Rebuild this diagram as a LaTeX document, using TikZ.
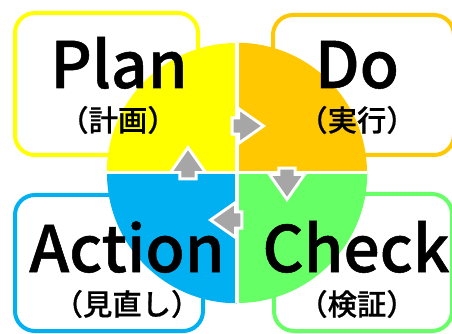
\documentclass[tikz,border=0pt]{standalone}
\usepackage{fontspec}
\setmainfont{Noto Sans CJK JP}[UprightFont=* Medium, BoldFont=* Bold]
\usetikzlibrary{shapes.arrows}
\definecolor{planyellow}{HTML}{FFFF00}
\definecolor{doorange}{HTML}{FFC800}
\definecolor{checkgreen}{HTML}{66FF66}
\definecolor{actblue}{HTML}{00B0F0}
\definecolor{cyclegray}{HTML}{A6A6A6}
\begin{document}
\begin{tikzpicture}[x=0.75pt,y=-0.75pt,
    pdcabox/.style={line width=3pt, rounded corners=15pt},
    bigword/.style={font=\fontsize{48}{48}\selectfont\addfontfeature{FakeBold=0.8}, anchor=base},
    jpword/.style={font=\fontsize{22}{22}\selectfont\addfontfeature{FakeBold=0.6}},
    cyclearrow/.style={single arrow, draw=white, fill=cyclegray, line width=2.2pt,
      inner sep=0pt, inner ysep=5pt, minimum height=23.5pt,
      single arrow tip angle=70, single arrow head extend=7pt}]
    \useasboundingbox (0,0) rectangle (452,334);
    \draw[pdcabox, planyellow] (15,13) rectangle (198,155);
    \draw[pdcabox, doorange] (273,15) rectangle (454,155);
    \draw[pdcabox, actblue] (15,195) rectangle (203,331);
    \draw[pdcabox, checkgreen] (274,194) rectangle (452,331);
    \node[circle, minimum size=195pt, inner sep=0pt] (wheel) at (237,173) {};
    \fill[planyellow] (wheel.center) -- (wheel.west) arc[start angle=180, end angle=270, radius=130] -- cycle;
    \fill[doorange] (wheel.center) -- (wheel.north) arc[start angle=270, end angle=360, radius=130] -- cycle;
    \fill[checkgreen] (wheel.center) -- (wheel.east) arc[start angle=0, end angle=90, radius=130] -- cycle;
    \fill[actblue] (wheel.center) -- (wheel.south) arc[start angle=90, end angle=180, radius=130] -- cycle;
    \draw[white, line width=3pt] (wheel.north) -- (wheel.south);
    \draw[white, line width=2.25pt] (wheel.west) -- (wheel.east);
    \node[bigword] (plantxt) at (119,88) {Plan};
    \node[bigword] (dotxt) at (357,88) {Do};
    \node[bigword] (acttxt) at (127,272) {Action};
    \node[bigword] (checktxt) at (356,272) {Check};
    \node[jpword] (planjp) at (118,120) {（計画）};
    \node[jpword] (dojp) at (357,120) {（実行）};
    \node[jpword] (actjp) at (127,304) {（見直し）};
    \node[jpword] (checkjp) at (357,304) {（検証）};
    \node[cyclearrow] (plantodo) at (242,126) {};
    \node[cyclearrow, rotate=-90] (dotocheck) at (287,178) {};
    \node[cyclearrow, rotate=180] (checktoact) at (232,220) {};
    \node[cyclearrow, rotate=90] (acttoplan) at (188,169) {};
  \end{tikzpicture}
\end{document}
